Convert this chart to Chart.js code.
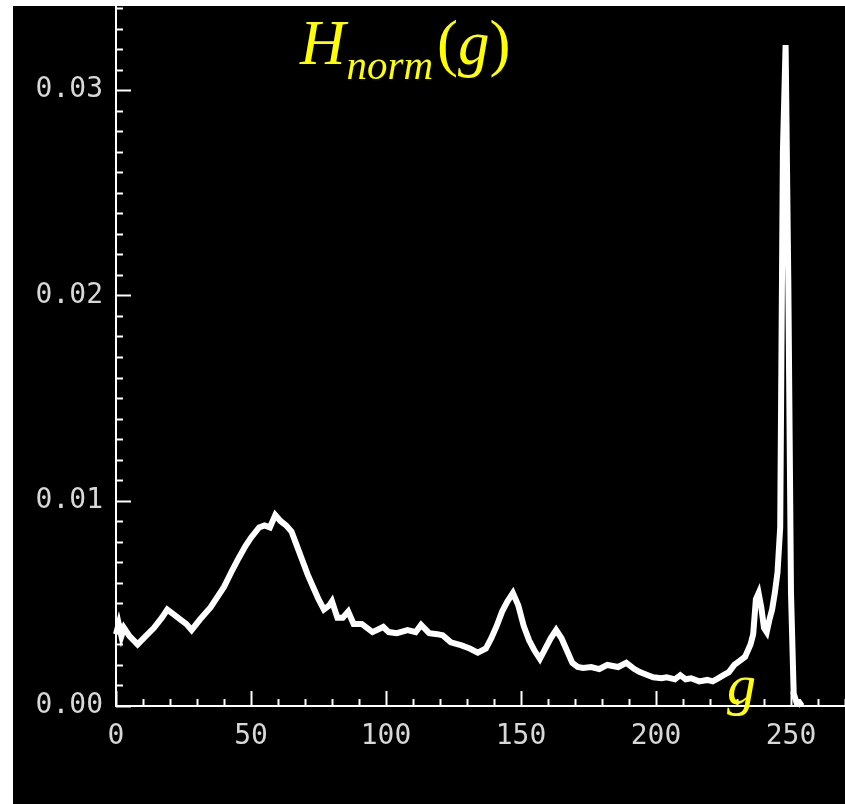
<!DOCTYPE html>
<html>
<head>
<meta charset="utf-8">
<script src="https://cdn.jsdelivr.net/npm/chart.js@4"></script>
<style>
  body { margin: 0; background: #fff; }
  #plot { position: absolute; left: 13px; top: 6px; width: 832px; height: 798px; background: #000; }
</style>
</head>
<body>
<div id="plot"><canvas id="hist" width="832" height="798"></canvas></div>
<script>
// grey level g and normalised histogram value (in units of 0.001)
var grey = [0, 1, 2, 3, 5, 8, 11, 14, 17, 19, 21, 24, 26, 28, 31, 35, 38, 40, 43, 45,
  48, 50, 53, 55, 57, 59, 61, 63, 65, 67, 69, 71, 73, 75, 77, 79, 80, 82, 84, 86,
  88, 91, 95, 99, 101, 104, 108, 111, 113, 116, 119, 121, 124, 128, 131, 134, 137, 139, 141, 143,
  145, 147, 149, 151, 153, 155, 157, 159, 161, 163, 165, 167, 169, 171, 173, 176, 179, 182, 186, 189,
  192, 194, 197, 199, 202, 204, 207, 209, 211, 213, 216, 219, 221, 223, 225, 227, 229, 231, 233, 235,
  236, 237, 238, 239, 240, 241, 242, 243, 244, 245, 246, 247, 248, 249, 250, 251, 252, 253, 254];
var hnorm = [3.5, 4.0, 3.4, 3.8, 3.4, 3.0, 3.4, 3.8, 4.3, 4.7, 4.5, 4.2, 4.0, 3.7, 4.2, 4.8, 5.4, 5.8, 6.6, 7.1,
  7.8, 8.2, 8.7, 8.8, 8.7, 9.3, 9.0, 8.8, 8.5, 7.8, 7.1, 6.4, 5.8, 5.2, 4.7, 4.9, 5.1, 4.3, 4.3, 4.6,
  4.0, 4.0, 3.6, 3.85, 3.6, 3.55, 3.7, 3.6, 3.95, 3.55, 3.5, 3.45, 3.1, 2.95, 2.8, 2.6, 2.8, 3.3, 3.9, 4.6,
  5.1, 5.5, 4.9, 3.9, 3.2, 2.7, 2.3, 2.8, 3.3, 3.7, 3.3, 2.7, 2.1, 1.9, 1.85, 1.9, 1.8, 2.0, 1.9, 2.1,
  1.8, 1.65, 1.5, 1.4, 1.35, 1.4, 1.3, 1.5, 1.3, 1.35, 1.2, 1.27, 1.2, 1.35, 1.5, 1.65, 2.0, 2.2, 2.4, 3.0,
  3.5, 5.2, 5.5, 4.8, 3.8, 3.6, 4.2, 4.7, 5.5, 6.5, 8.7, 27.0, 32.2, 20.7, 5.5, 0.6, 0.2, 0.2, 0];

var xMin = 0, xMax = 270;
var yMin = 0, yMax = 0.0341;
var labelFont = { family: 'DejaVu Sans Mono', size: 28 };

var points = [];
for (var i = 0; i < grey.length; i++) {
    points.push({ x: grey[i], y: hnorm[i] / 1000 });
}

// IDL style tick marks pointing into the plot (minor + major)
var inwardTicks = {
    id: 'inwardTicks',
    afterDraw: function(chart) {
        var ctx = chart.ctx;
        var area = chart.chartArea;
        var xs = chart.scales.x, ys = chart.scales.y;
        ctx.save();
        ctx.strokeStyle = '#fff';
        ctx.lineWidth = 2;
        for (var k = 0; k / 1000 <= yMax; k++) {
            var py = Math.round(ys.getPixelForValue(k / 1000)) + 0.5;
            var len = (k % 10 === 0) ? 15 : 7;
            ctx.beginPath();
            ctx.moveTo(area.left, py);
            ctx.lineTo(area.left + len, py);
            ctx.stroke();
        }
        for (var g = xMin; g <= xMax; g += 10) {
            var px = Math.round(xs.getPixelForValue(g)) + 0.5;
            var lenX = (g % 50 === 0) ? 15 : 7;
            ctx.beginPath();
            ctx.moveTo(px, area.bottom);
            ctx.lineTo(px, area.bottom - lenX);
            ctx.stroke();
        }
        ctx.restore();
    }
};

// the yellow labels H_norm(g) and g
var yellowText = {
    id: 'yellowText',
    afterDraw: function(chart) {
        var ctx = chart.ctx;
        ctx.save();
        ctx.fillStyle = '#ffff00';
        ctx.textBaseline = 'alphabetic';
        var x = 287, base = 58;
        ctx.font = 'italic 63px "Liberation Serif"';
        ctx.fillText('H', x, base);
        x += ctx.measureText('H').width + 1;
        ctx.font = 'italic 41px "Liberation Serif"';
        ctx.fillText('norm', x, base + 15);
        x += ctx.measureText('norm').width + 4;
        ctx.font = '63px "Liberation Serif"';
        ctx.fillText('(', x, base);
        x += ctx.measureText('(').width;
        ctx.font = 'italic 63px "Liberation Serif"';
        ctx.fillText('g', x, base);
        x += ctx.measureText('g').width;
        ctx.font = '63px "Liberation Serif"';
        ctx.fillText(')', x, base);

        ctx.font = 'italic 58px "Liberation Serif"';
        ctx.fillText('g', 714, 698);
        ctx.restore();
    }
};

var config = {
    type: 'line',
    data: {
        datasets: [{
            data: points,
            borderColor: '#fff',
            borderWidth: 6,
            pointRadius: 0,
            tension: 0,
            fill: false,
            clip: false
        }]
    },
    options: {
        responsive: false,
        animation: false,
        devicePixelRatio: 1,
        layout: { padding: 0 },
        plugins: {
            legend: { display: false },
            title: { display: false },
            tooltip: { enabled: false }
        },
        scales: {
            x: {
                type: 'linear',
                min: xMin,
                max: xMax,
                grid: { display: false, drawTicks: false },
                border: { display: true, color: '#fff', width: 2 },
                ticks: {
                    stepSize: 10,
                    autoSkip: false,
                    maxRotation: 0,
                    padding: 14,
                    color: '#d8d8d8',
                    font: labelFont,
                    callback: function(v) { return v % 50 === 0 ? String(v) : null; }
                },
                afterFit: function(s) { s.height = 98; s.paddingRight = 0; }
            },
            y: {
                min: yMin,
                max: yMax,
                grid: { display: false, drawTicks: false },
                border: { display: true, color: '#fff', width: 2 },
                ticks: {
                    stepSize: 0.01,
                    autoSkip: false,
                    padding: 13,
                    color: '#d8d8d8',
                    font: labelFont,
                    callback: function(v) {
                        var k = Math.round(v * 1000);
                        if (Math.abs(v * 1000 - k) > 1e-6) return null;
                        return k % 10 === 0 ? (k / 1000).toFixed(2) : null;
                    }
                },
                afterFit: function(s) { s.width = 103; s.paddingTop = 0; }
            }
        }
    },
    plugins: [inwardTicks, yellowText]
};

var ctx = document.getElementById('hist').getContext('2d');
var histChart = new Chart(ctx, config);
</script>
</body>
</html>
